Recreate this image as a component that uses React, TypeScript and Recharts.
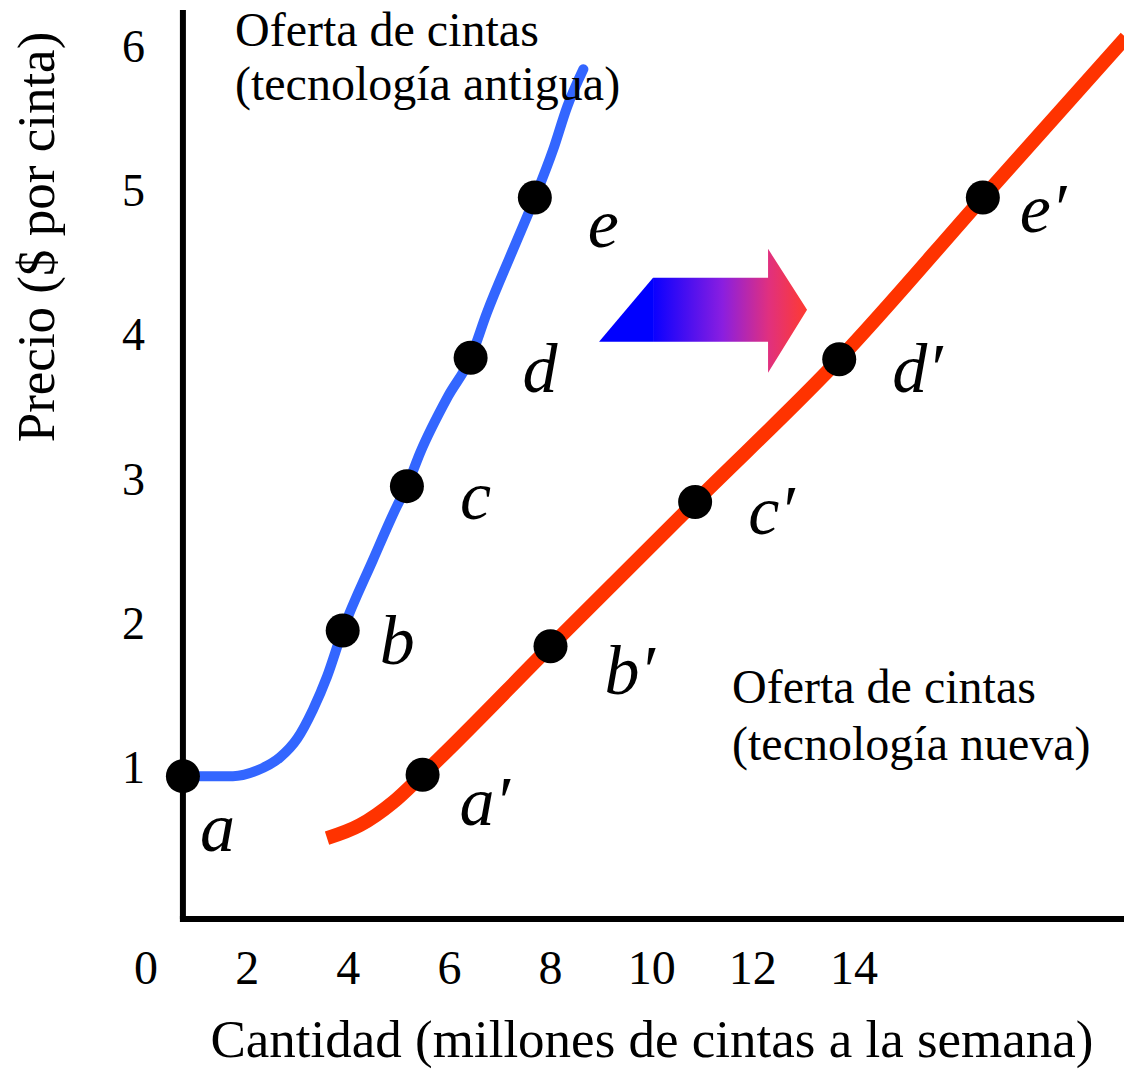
import React from 'react';
import {
  ComposedChart,
  Line,
  Scatter,
  XAxis,
  YAxis,
  ReferenceLine,
  ReferenceDot,
  Label,
} from 'recharts';

// ---------- data ----------
const X_TICKS = [0, 2, 4, 6, 8, 10, 12, 14];
const Y_TICKS = [1, 2, 3, 4, 5, 6];
const X_DOMAIN: [number, number] = [0, 19.5];
const Y_DOMAIN: [number, number] = [0, 6.3];

const X_TITLE = 'Cantidad (millones de cintas a la semana)';
const Y_TITLE = 'Precio ($ por cinta)';

// supply curve, old technology (quantity q, price p)
const OLD_CURVE = [
  { q: 0.73, p: 0.99 },
  { q: 1.72, p: 0.99 },
  { q: 2.2, p: 1.03 },
  { q: 2.65, p: 1.12 },
  { q: 2.99, p: 1.25 },
  { q: 3.3, p: 1.45 },
  { q: 3.58, p: 1.68 },
  { q: 3.89, p: 2.0 },
  { q: 4.49, p: 2.49 },
  { q: 4.96, p: 2.86 },
  { q: 5.16, p: 3.0 },
  { q: 5.42, p: 3.23 },
  { q: 5.97, p: 3.62 },
  { q: 6.42, p: 3.89 },
  { q: 6.74, p: 4.2 },
  { q: 7.26, p: 4.64 },
  { q: 7.69, p: 5.0 },
  { q: 8.05, p: 5.33 },
  { q: 8.33, p: 5.63 },
  { q: 8.65, p: 5.89 },
];

// supply curve, new technology
const NEW_CURVE = [
  { q: 3.58, p: 0.56 },
  { q: 4.23, p: 0.65 },
  { q: 4.89, p: 0.81 },
  { q: 5.47, p: 1.0 },
  { q: 8.0, p: 1.89 },
  { q: 10.86, p: 2.89 },
  { q: 13.71, p: 3.88 },
  { q: 16.55, p: 5.0 },
  { q: 19.38, p: 6.11 },
];

const OLD_POINTS = [
  { label: 'a', q: 0.73, p: 0.99 },
  { label: 'b', q: 3.89, p: 2.0 },
  { label: 'c', q: 5.16, p: 3.0 },
  { label: 'd', q: 6.42, p: 3.89 },
  { label: 'e', q: 7.69, p: 5.0 },
];

const NEW_POINTS = [
  { label: 'a\u2032', q: 5.47, p: 1.0 },
  { label: 'b\u2032', q: 8.0, p: 1.89 },
  { label: 'c\u2032', q: 10.86, p: 2.89 },
  { label: 'd\u2032', q: 13.71, p: 3.88 },
  { label: 'e\u2032', q: 16.55, p: 5.0 },
];

// vertical axis line sits at the quantity of point a
const AXIS_ORIGIN_Q = 0.73;

const OLD_NOTE = ['Oferta de cintas', '(tecnología antigua)'];
const OLD_NOTE_AT = { q: 1.76, p: 6.05 };
const NEW_NOTE = ['Oferta de cintas', '(tecnología nueva)'];
const NEW_NOTE_AT = { q: 11.59, p: 1.5 };
const ARROW_AT = { q: 8.96, p: 4.0 };

// ---------- styles ----------
const FONT = "'Liberation Serif', 'Times New Roman', Times, serif";
const BLUE = '#3366FF';
const RED = '#FF3300';

const LABEL_OFFSET: Record<string, [number, number]> = {
  a: [17, 75],
  b: [37, 34],
  c: [53, 33],
  d: [52, 34],
  e: [53, 49],
  'a\u2032': [37, 50],
  'b\u2032': [54, 48],
  'c\u2032': [53, 32],
  'd\u2032': [53, 33],
  'e\u2032': [37, 34],
};

const XTick = (props: any) => {
  const { x, y, payload } = props;
  return (
    <text x={x} y={y + 65} textAnchor="middle" fontSize={48} fontFamily={FONT} fill="#000">
      {payload.value}
    </text>
  );
};

const YTick = (props: any) => {
  const { x, y, payload } = props;
  return (
    <text x={x - 1} y={y + 8.5} textAnchor="end" fontSize={46} fontFamily={FONT} fill="#000">
      {payload.value}
    </text>
  );
};

const PointShape = (props: any) => {
  const { cx, cy, payload } = props;
  const off = LABEL_OFFSET[payload.label] || [40, 40];
  return (
    <g>
      <circle cx={cx} cy={cy} r={17} fill="#000" />
      <text
        x={cx + off[0]}
        y={cy + off[1]}
        fontSize={70}
        fontStyle="italic"
        fontFamily={FONT}
        fill="#000"
      >
        {payload.label}
      </text>
    </g>
  );
};

const makeNote = (lines: string[], gap: number) => (props: any) => {
  const { cx, cy } = props;
  return (
    <text x={cx} y={cy} fontSize={48} fontFamily={FONT} fill="#000">
      {lines.map((l, i) => (
        <tspan key={i} x={cx} dy={i === 0 ? 0 : gap}>
          {l}
        </tspan>
      ))}
    </text>
  );
};

const ArrowShape = (props: any) => {
  const { cx, cy } = props;
  const P = (dx: number, dy: number) => `${cx + dx},${cy + dy}`;
  return (
    <g>
      <defs>
        <linearGradient
          id="shiftGrad"
          gradientUnits="userSpaceOnUse"
          x1={cx + 54}
          y1={cy}
          x2={cx + 208}
          y2={cy}
        >
          <stop offset="0%" stopColor="#0a00ff" />
          <stop offset="45%" stopColor="#8a1ee0" />
          <stop offset="75%" stopColor="#e0307f" />
          <stop offset="100%" stopColor="#ff3b30" />
        </linearGradient>
      </defs>
      <polygon points={[P(0, 0), P(54, -64), P(54, 0)].join(' ')} fill="#0000FF" />
      <polygon
        points={[P(54, -64), P(169, -64), P(169, -93), P(208, -32), P(169, 31), P(169, 0), P(54, 0)].join(' ')}
        fill="url(#shiftGrad)"
      />
    </g>
  );
};

const XTitle = (props: any) => {
  const vb = props.viewBox;
  return (
    <text
      x={vb.x + vb.width / 2 + 13}
      y={vb.y + 138}
      textAnchor="middle"
      fontSize={53}
      fontFamily={FONT}
      fill="#000"
    >
      {X_TITLE}
    </text>
  );
};

const YTitle = (props: any) => {
  const vb = props.viewBox;
  const x = vb.x - 32;
  const y = vb.y + 227;
  return (
    <text
      x={x}
      y={y}
      transform={`rotate(-90, ${x}, ${y})`}
      textAnchor="middle"
      fontSize={53}
      fontFamily={FONT}
      fill="#000"
    >
      {Y_TITLE}
    </text>
  );
};

export default function App() {
  return (
    <div style={{ margin: '-8px 0 0 -8px', width: 1132, height: 1070 }}>
      <ComposedChart
        width={1132}
        height={1070}
        margin={{ top: 10, right: 0, bottom: 0, left: 86 }}
      >
        <XAxis
          type="number"
          dataKey="q"
          domain={X_DOMAIN}
          ticks={X_TICKS}
          interval={0}
          allowDataOverflow
          axisLine={false}
          tickLine={false}
          tickSize={0}
          tickMargin={0}
          height={151}
          tick={(p: any) => <XTick {...p} />}
        >
          <Label content={(p: any) => <XTitle {...p} />} />
        </XAxis>
        <YAxis
          type="number"
          dataKey="p"
          domain={Y_DOMAIN}
          ticks={Y_TICKS}
          interval={0}
          allowDataOverflow
          axisLine={false}
          tickLine={false}
          tickSize={0}
          tickMargin={0}
          width={60}
          tick={(p: any) => <YTick {...p} />}
        >
          <Label content={(p: any) => <YTitle {...p} />} />
        </YAxis>

        <ReferenceLine
          segment={[
            { x: AXIS_ORIGIN_Q, y: 0 },
            { x: AXIS_ORIGIN_Q, y: Y_DOMAIN[1] },
          ]}
          stroke="#000"
          strokeWidth={6}
        />
        <ReferenceLine
          segment={[
            { x: AXIS_ORIGIN_Q, y: 0 },
            { x: X_DOMAIN[1], y: 0 },
          ]}
          stroke="#000"
          strokeWidth={6}
          strokeLinecap="square"
        />

        <Line
          data={OLD_CURVE}
          dataKey="p"
          type="monotone"
          stroke={BLUE}
          strokeWidth={10}
          strokeLinecap="round"
          dot={false}
          activeDot={false}
          isAnimationActive={false}
        />
        <Line
          data={NEW_CURVE}
          dataKey="p"
          type="monotone"
          stroke={RED}
          strokeWidth={14}
          strokeLinecap="butt"
          dot={false}
          activeDot={false}
          isAnimationActive={false}
        />

        <Scatter data={OLD_POINTS} dataKey="p" shape={(p: any) => <PointShape {...p} />} isAnimationActive={false} />
        <Scatter data={NEW_POINTS} dataKey="p" shape={(p: any) => <PointShape {...p} />} isAnimationActive={false} />

        <ReferenceDot x={OLD_NOTE_AT.q} y={OLD_NOTE_AT.p} r={0} shape={makeNote(OLD_NOTE, 54)} />
        <ReferenceDot x={NEW_NOTE_AT.q} y={NEW_NOTE_AT.p} r={0} shape={makeNote(NEW_NOTE, 57)} />
        <ReferenceDot x={ARROW_AT.q} y={ARROW_AT.p} r={0} shape={(p: any) => <ArrowShape {...p} />} />
      </ComposedChart>
    </div>
  );
}
